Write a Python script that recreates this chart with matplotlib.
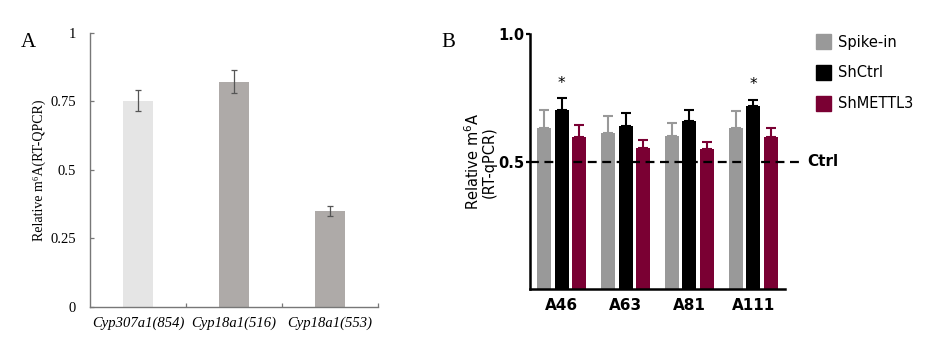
import matplotlib
matplotlib.use('Agg')
import matplotlib.pyplot as plt
import matplotlib.patches as mpatches
import numpy as np

# panel A data
genes = ['Cyp307a1(854)', 'Cyp18a1(516)', 'Cyp18a1(553)']
m6a_a = [0.752, 0.822, 0.350]
err_a = [0.038, 0.042, 0.018]
colors_a = ['#e5e5e5', '#aeaaa8', '#aeaaa8']

# panel B data
sites = ['A46', 'A63', 'A81', 'A111']
groups = ['Spike-in', 'ShCtrl', 'ShMETTL3']
spike_in = [0.632, 0.612, 0.601, 0.632]
spike_err = [0.069, 0.067, 0.051, 0.065]
shctrl = [0.703, 0.641, 0.660, 0.718]
shctrl_err = [0.045, 0.049, 0.044, 0.025]
shmettl3 = [0.595, 0.554, 0.550, 0.597]
shmettl3_err = [0.050, 0.029, 0.026, 0.034]
star_sites = ['A46', 'A111']
ctrl_level = 0.5
colors_b = ['#999999', '#000000', '#7a0033']

fig = plt.figure(figsize=(9.45, 3.51), dpi=100)

# ---- panel A ----
axA = fig.add_axes([0.0952, 0.1254, 0.3048, 0.781])
xa = np.arange(len(genes)) + 0.5
axA.bar(xa, m6a_a, width=0.31, color=colors_a, zorder=2)
axA.errorbar(xa, m6a_a, yerr=err_a, fmt='none', ecolor='#555555', elinewidth=0.9,
             capsize=2.5, capthick=0.9, zorder=3)
axA.set_xlim(0, 3)
axA.set_ylim(0, 1)
axA.set_yticks([0, 0.25, 0.5, 0.75, 1])
axA.set_yticklabels(['0', '0.25', '0.5', '0.75', '1'], family='Liberation Serif', fontsize=10.5)
axA.set_xticks([1, 2, 3])
axA.set_xticklabels([])
axA.set_xticks(xa, minor=True)
axA.set_xticklabels(genes, minor=True, family='Liberation Serif', style='italic', fontsize=10.5)
axA.tick_params(axis='x', which='minor', length=0, pad=7)
axA.tick_params(axis='both', which='major', direction='in', length=3, color='#777777', width=0.9)
axA.tick_params(axis='y', pad=10)
for s in ['top', 'right']:
    axA.spines[s].set_visible(False)
for s in ['left', 'bottom']:
    axA.spines[s].set_color('#777777')
    axA.spines[s].set_linewidth(1.0)
axA.set_ylabel('Relative m\u2076A(RT-QPCR)', family='Liberation Serif', fontsize=10, labelpad=3)
fig.text(0.022, 0.865, 'A', family='Liberation Serif', fontsize=15)

# ---- panel B ----
axB = fig.add_axes([0.5608, 0.1758, 0.27, 0.7273])
xb = np.arange(len(sites)) + 0.5
w = 0.22
offs = [-0.276, 0, 0.276]
series = [(spike_in, spike_err), (shctrl, shctrl_err), (shmettl3, shmettl3_err)]
for (vals, errs), off, col, name in zip(series, offs, colors_b, groups):
    axB.bar(xb + off, vals, width=w, color=col, label=name, zorder=2)
    axB.errorbar(xb + off, vals, yerr=[np.zeros(len(errs)), errs], fmt='none',
                 ecolor=col, elinewidth=1.5, capsize=3.5, capthick=1.5, zorder=1)
for i, site in enumerate(sites):
    if site in star_sites:
        top = shctrl[i] + shctrl_err[i]
        axB.text(xb[i], top + 0.06, '*', ha='center', va='center', fontsize=11)
axB.plot([0, 4.23], [ctrl_level, ctrl_level], ls=(0, (4, 2.5)), color='black', lw=1.6,
         clip_on=False, zorder=4)
axB.text(4.35, ctrl_level, 'Ctrl', fontweight='bold', fontsize=11, va='center', ha='left')
axB.set_xlim(0, 4)
axB.set_ylim(0, 1)
axB.set_yticks([0.5, 1.0])
axB.set_yticklabels(['0.5', '1.0'], fontweight='bold', fontsize=10.5)
axB.set_xticks(xb)
axB.set_xticklabels(sites, fontweight='bold', fontsize=11)
axB.tick_params(axis='x', length=0, pad=6)
axB.tick_params(axis='y', length=3, width=1.6, pad=1)
for s in ['top', 'right']:
    axB.spines[s].set_visible(False)
for s in ['left', 'bottom']:
    axB.spines[s].set_linewidth(1.8)
axB.set_ylabel('Relative m$^6$A\n(RT-qPCR)', fontsize=10.5, labelpad=1, linespacing=1.0)
handles = [mpatches.Patch(color=c, label=g) for c, g in zip(colors_b, groups)]
fig.legend(handles=handles, loc='upper left', bbox_to_anchor=(0.85, 0.94), frameon=False,
           fontsize=10.5, handlelength=1.0, handleheight=1.2, labelspacing=1.05, handletextpad=0.5)
fig.text(0.467, 0.865, 'B', family='Liberation Serif', fontsize=15)

fig.savefig('out.png', dpi=100)
